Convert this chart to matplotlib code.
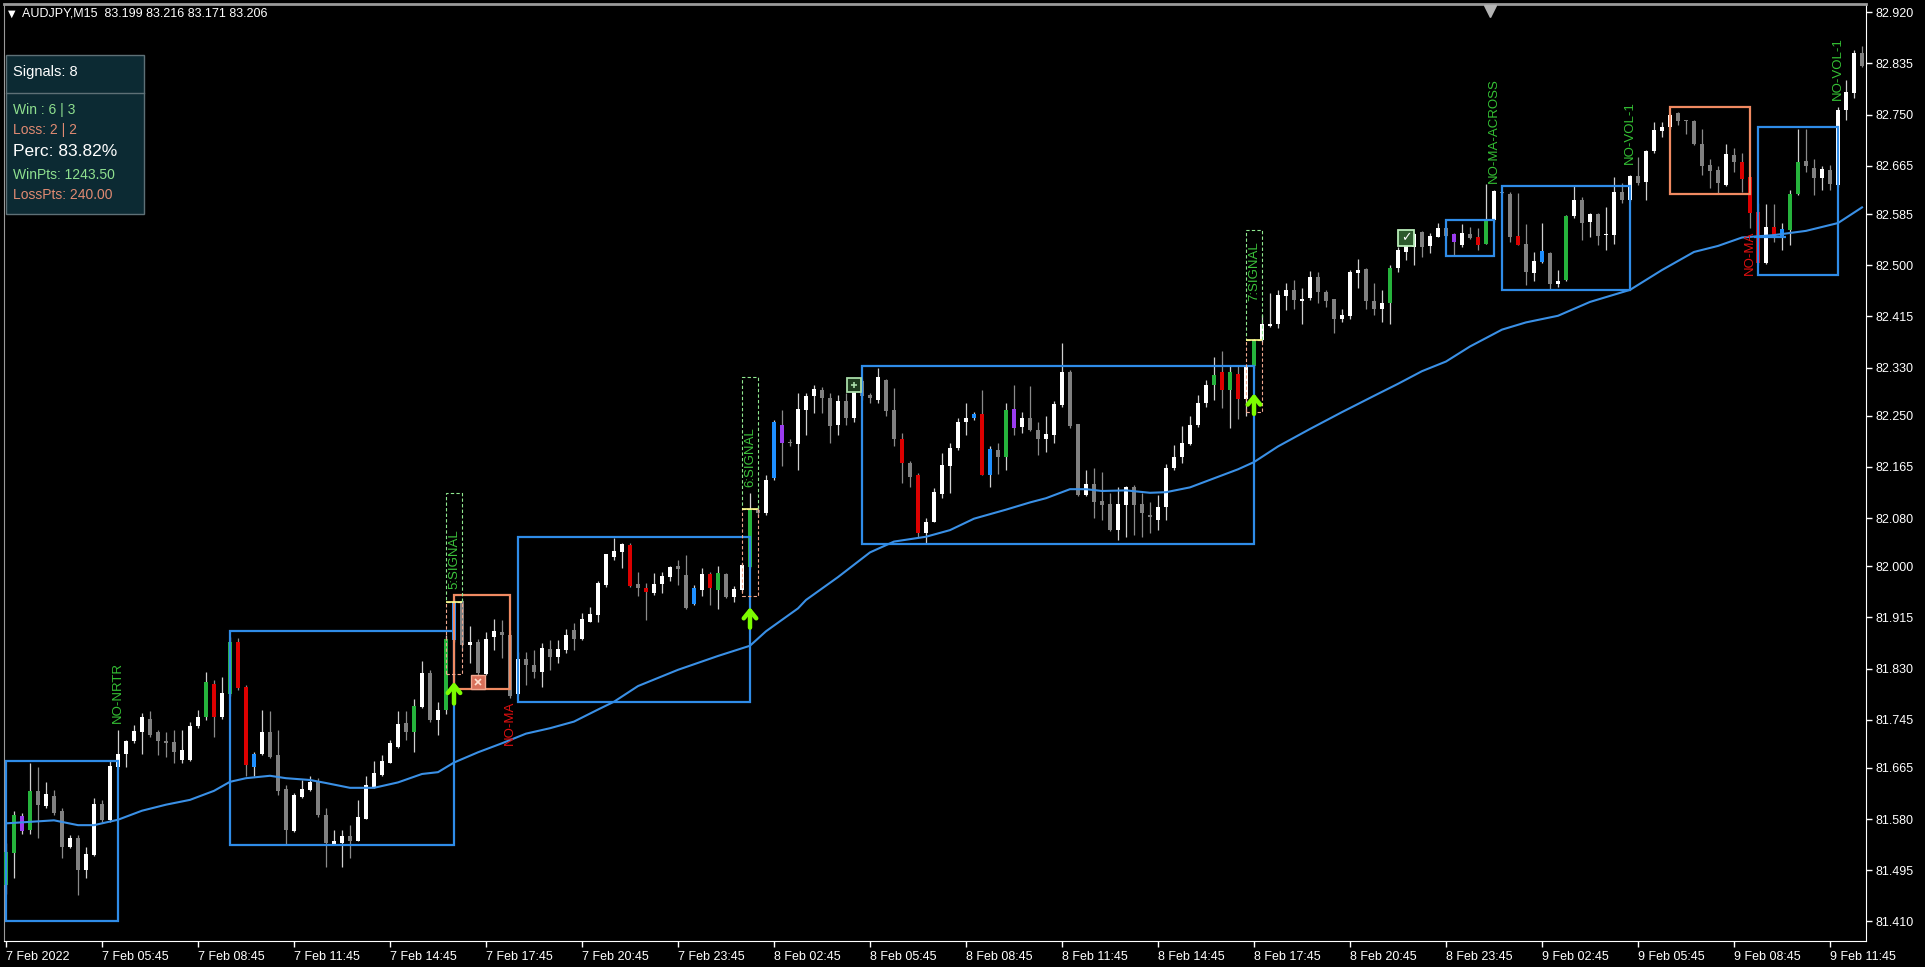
import numpy as np
import matplotlib.pyplot as plt
from matplotlib.patches import Rectangle
from matplotlib.lines import Line2D
from matplotlib.transforms import blended_transform_factory

# ---------------------------
# 1. Candles AUDJPY M15 (index 0 = first bar on the left)
# ---------------------------
opens = [81.471, 81.524, 81.561, 81.562, 81.627, 81.602, 81.619, 81.594, 81.534, 81.549,
         81.495, 81.521, 81.605, 81.578, 81.666, 81.688, 81.709, 81.725, 81.747, 81.724,
         81.710, 81.708, 81.679, 81.679, 81.734, 81.749, 81.805, 81.749, 81.787, 81.874,
         81.799, 81.667, 81.688, 81.724, 81.687, 81.630, 81.561, 81.617, 81.628, 81.641,
         81.587, 81.539, 81.541, 81.552, 81.544, 81.581, 81.634, 81.653, 81.674, 81.700,
         81.740, 81.725, 81.767, 81.823, 81.744, 81.761, 81.878, 81.943, 81.869, 81.875,
         81.821, 81.883, 81.891, 81.886, 81.788, 81.846, 81.836, 81.825, 81.862, 81.849,
         81.861, 81.894, 81.879, 81.908, 81.919, 81.969, 82.016, 82.024, 82.035, 81.970,
         81.964, 81.956, 81.971, 81.982, 82.001, 81.986, 81.938, 81.961, 81.987, 81.961,
         81.987, 81.949, 81.961, 81.999, 82.094, 82.088, 82.146, 82.235, 82.207, 82.203,
         82.259, 82.282, 82.293, 82.280, 82.235, 82.275, 82.246, 82.307, 82.285, 82.276,
         82.310, 82.260, 82.211, 82.171, 82.152, 82.055, 82.074, 82.120, 82.167, 82.196,
         82.240, 82.246, 82.253, 82.152, 82.193, 82.182, 82.261, 82.231, 82.246, 82.226,
         82.211, 82.218, 82.268, 82.323, 82.236, 82.118, 82.137, 82.108, 82.104, 82.060,
         82.102, 82.131, 82.104, 82.085, 82.077, 82.098, 82.163, 82.181, 82.203, 82.235,
         82.271, 82.301, 82.322, 82.292, 82.319, 82.278, 82.333, 82.375, 82.399, 82.403,
         82.449, 82.459, 82.441, 82.445, 82.480, 82.455, 82.444, 82.410, 82.415, 82.487,
         82.494, 82.441, 82.427, 82.438, 82.496, 82.522, 82.530, 82.555, 82.532, 82.547,
         82.561, 82.552, 82.534, 82.552, 82.546, 82.536, 82.575, 82.622, 82.619, 82.548,
         82.535, 82.487, 82.506, 82.521, 82.469, 82.475, 82.582, 82.609, 82.571, 82.585,
         82.550, 82.550, 82.622, 82.608, 82.648, 82.639, 82.689, 82.723, 82.729, 82.752,
         82.741, 82.739, 82.701, 82.666, 82.658, 82.633, 82.683, 82.672, 82.646, 82.589,
         82.504, 82.564, 82.547, 82.558, 82.619, 82.673, 82.662, 82.645, 82.658, 82.633,
         82.757, 82.786, 82.852]
highs = [81.540, 81.594, 81.590, 81.673, 81.667, 81.641, 81.628, 81.598, 81.554, 81.554,
         81.534, 81.615, 81.612, 81.678, 81.728, 81.712, 81.736, 81.756, 81.759, 81.728,
         81.724, 81.728, 81.728, 81.742, 81.761, 81.825, 81.811, 81.816, 81.883, 81.881,
         81.803, 81.692, 81.761, 81.759, 81.728, 81.637, 81.623, 81.645, 81.651, 81.648,
         81.598, 81.562, 81.562, 81.570, 81.612, 81.651, 81.676, 81.687, 81.712, 81.759,
         81.759, 81.779, 81.842, 81.828, 81.775, 81.885, 81.945, 81.946, 81.900, 81.880,
         81.890, 81.912, 81.911, 81.894, 81.858, 81.858, 81.861, 81.872, 81.878, 81.878,
         81.896, 81.905, 81.922, 81.933, 81.975, 82.021, 82.047, 82.038, 82.038, 81.991,
         81.972, 81.988, 81.991, 82.000, 82.011, 82.019, 81.969, 81.997, 81.991, 82.001,
         81.988, 81.967, 82.005, 82.121, 82.100, 82.152, 82.243, 82.260, 82.212, 82.287,
         82.287, 82.301, 82.297, 82.287, 82.285, 82.287, 82.311, 82.311, 82.287, 82.329,
         82.311, 82.296, 82.221, 82.174, 82.155, 82.080, 82.130, 82.188, 82.204, 82.246,
         82.271, 82.256, 82.293, 82.199, 82.204, 82.271, 82.301, 82.257, 82.300, 82.240,
         82.250, 82.274, 82.371, 82.326, 82.237, 82.160, 82.163, 82.157, 82.121, 82.132,
         82.133, 82.135, 82.121, 82.107, 82.119, 82.170, 82.202, 82.233, 82.249, 82.285,
         82.309, 82.347, 82.357, 82.333, 82.332, 82.334, 82.378, 82.417, 82.454, 82.458,
         82.470, 82.476, 82.462, 82.490, 82.489, 82.459, 82.444, 82.428, 82.492, 82.510,
         82.495, 82.470, 82.459, 82.500, 82.531, 82.553, 82.553, 82.556, 82.553, 82.570,
         82.564, 82.553, 82.568, 82.564, 82.561, 82.635, 82.625, 82.623, 82.621, 82.620,
         82.569, 82.522, 82.570, 82.522, 82.492, 82.583, 82.631, 82.614, 82.586, 82.586,
         82.597, 82.647, 82.636, 82.650, 82.680, 82.691, 82.738, 82.738, 82.752, 82.755,
         82.741, 82.741, 82.726, 82.677, 82.664, 82.701, 82.694, 82.687, 82.647, 82.603,
         82.602, 82.602, 82.570, 82.625, 82.727, 82.727, 82.677, 82.664, 82.666, 82.762,
         82.808, 82.857, 82.864]
lows = [81.455, 81.482, 81.556, 81.556, 81.548, 81.598, 81.587, 81.515, 81.532, 81.454,
        81.482, 81.518, 81.576, 81.576, 81.664, 81.667, 81.706, 81.689, 81.717, 81.687,
        81.684, 81.673, 81.673, 81.676, 81.731, 81.745, 81.717, 81.747, 81.785, 81.795,
        81.651, 81.651, 81.686, 81.681, 81.620, 81.537, 81.559, 81.615, 81.626, 81.584,
        81.501, 81.537, 81.501, 81.515, 81.543, 81.580, 81.631, 81.651, 81.673, 81.698,
        81.712, 81.692, 81.765, 81.742, 81.720, 81.755, 81.875, 81.860, 81.839, 81.811,
        81.819, 81.861, 81.847, 81.781, 81.786, 81.803, 81.814, 81.800, 81.828, 81.839,
        81.856, 81.861, 81.878, 81.907, 81.908, 81.966, 82.010, 81.997, 81.966, 81.950,
        81.911, 81.952, 81.955, 81.975, 81.969, 81.929, 81.936, 81.950, 81.936, 81.929,
        81.947, 81.941, 81.958, 81.997, 82.083, 82.085, 82.143, 82.166, 82.200, 82.160,
        82.218, 82.254, 82.254, 82.204, 82.218, 82.235, 82.240, 82.276, 82.271, 82.271,
        82.250, 82.199, 82.138, 82.132, 82.048, 82.039, 82.073, 82.113, 82.121, 82.193,
        82.218, 82.243, 82.152, 82.132, 82.154, 82.160, 82.218, 82.221, 82.224, 82.185,
        82.190, 82.204, 82.265, 82.229, 82.116, 82.116, 82.080, 82.077, 82.058, 82.043,
        82.049, 82.052, 82.048, 82.055, 82.060, 82.077, 82.160, 82.171, 82.202, 82.232,
        82.265, 82.276, 82.262, 82.229, 82.245, 82.249, 82.330, 82.372, 82.398, 82.395,
        82.426, 82.428, 82.403, 82.442, 82.438, 82.431, 82.387, 82.405, 82.410, 82.462,
        82.428, 82.417, 82.406, 82.403, 82.488, 82.509, 82.500, 82.514, 82.520, 82.547,
        82.546, 82.517, 82.530, 82.543, 82.525, 82.535, 82.572, 82.619, 82.539, 82.534,
        82.467, 82.473, 82.503, 82.459, 82.463, 82.473, 82.578, 82.542, 82.547, 82.534,
        82.525, 82.536, 82.603, 82.606, 82.634, 82.608, 82.686, 82.713, 82.727, 82.733,
        82.718, 82.700, 82.650, 82.628, 82.620, 82.631, 82.655, 82.622, 82.561, 82.500,
        82.502, 82.539, 82.525, 82.534, 82.617, 82.655, 82.617, 82.625, 82.625, 82.630,
        82.741, 82.777, 82.829]
closes = [81.526, 81.587, 81.585, 81.627, 81.604, 81.621, 81.590, 81.534, 81.549, 81.495,
          81.522, 81.605, 81.579, 81.668, 81.688, 81.710, 81.726, 81.749, 81.720, 81.709,
          81.706, 81.692, 81.695, 81.735, 81.749, 81.808, 81.749, 81.789, 81.874, 81.797,
          81.670, 81.688, 81.724, 81.684, 81.627, 81.562, 81.620, 81.630, 81.642, 81.587,
          81.540, 81.544, 81.552, 81.544, 81.584, 81.636, 81.656, 81.677, 81.706, 81.738,
          81.725, 81.768, 81.822, 81.744, 81.761, 81.879, 81.941, 81.869, 81.875, 81.822,
          81.879, 81.893, 81.885, 81.784, 81.846, 81.836, 81.825, 81.864, 81.850, 81.862,
          81.886, 81.880, 81.913, 81.921, 81.973, 82.020, 82.026, 82.037, 81.967, 81.964,
          81.957, 81.970, 81.983, 81.998, 81.995, 81.930, 81.964, 81.987, 81.964, 81.988,
          81.949, 81.962, 82.002, 82.095, 82.088, 82.143, 82.239, 82.205, 82.205, 82.261,
          82.283, 82.294, 82.280, 82.233, 82.275, 82.246, 82.308, 82.282, 82.279, 82.315,
          82.258, 82.211, 82.171, 82.149, 82.055, 82.074, 82.124, 82.168, 82.196, 82.240,
          82.247, 82.253, 82.152, 82.195, 82.181, 82.260, 82.230, 82.247, 82.226, 82.211,
          82.220, 82.270, 82.323, 82.233, 82.118, 82.137, 82.107, 82.102, 82.060, 82.104,
          82.131, 82.102, 82.088, 82.081, 82.098, 82.163, 82.182, 82.204, 82.235, 82.271,
          82.301, 82.318, 82.292, 82.322, 82.278, 82.332, 82.375, 82.402, 82.403, 82.450,
          82.459, 82.442, 82.444, 82.480, 82.456, 82.441, 82.410, 82.417, 82.489, 82.492,
          82.441, 82.428, 82.438, 82.496, 82.525, 82.532, 82.552, 82.531, 82.548, 82.561,
          82.549, 82.539, 82.553, 82.545, 82.534, 82.575, 82.623, 82.620, 82.547, 82.533,
          82.488, 82.507, 82.524, 82.469, 82.473, 82.582, 82.608, 82.570, 82.585, 82.549,
          82.552, 82.622, 82.608, 82.648, 82.636, 82.690, 82.725, 82.730, 82.749, 82.740,
          82.739, 82.702, 82.665, 82.657, 82.636, 82.685, 82.672, 82.643, 82.587, 82.504,
          82.564, 82.549, 82.560, 82.619, 82.672, 82.664, 82.645, 82.659, 82.635, 82.758,
          82.788, 82.852, 82.830]

# bars coloured by the indicator: g=green r=red b=blue p=purple
painted_idx = [0, 1, 2, 3, 25, 26, 28, 29, 30, 31, 51, 55, 56, 78, 80, 86, 88, 89, 93, 96,
               97, 112, 114, 121, 122, 123, 125, 126, 151, 152, 153, 154, 156, 173, 181, 184,
               185, 189, 192, 195, 217, 218, 219, 221, 222, 223, 224]
painted_col = ['g', 'g', 'p', 'g', 'g', 'r', 'g', 'r', 'r', 'b', 'g', 'g', 'b', 'r', 'r', 'b',
               'r', 'g', 'g', 'b', 'p', 'r', 'r', 'b', 'r', 'b', 'g', 'p', 'g', 'r', 'g', 'r',
               'g', 'g', 'p', 'r', 'g', 'r', 'b', 'g', 'r', 'r', 'r', 'r', 'b', 'g', 'g']

# moving average (read at these bar indices)
ma_idx = [0, 6, 9, 11, 14, 17, 20, 23, 26, 28, 30, 33, 35, 38, 40, 43, 46, 49, 52, 54,
          56, 59, 62, 65, 68, 71, 74, 76, 79, 84, 89, 93, 95, 99, 100, 104, 108, 111, 115, 118,
          121, 125, 128, 130, 133, 135, 137, 140, 143, 145, 148, 151, 154, 156, 159, 163, 167,
          171, 174, 177, 180, 183, 187, 190, 194, 198, 203, 207, 211, 214, 217, 221, 225, 229, 232]
ma_val = [81.573, 81.578, 81.570, 81.570, 81.579, 81.594, 81.604, 81.612, 81.627, 81.642,
          81.648, 81.652, 81.648, 81.645, 81.640, 81.632, 81.632, 81.641, 81.655, 81.658,
          81.674, 81.691, 81.706, 81.722, 81.731, 81.742, 81.762, 81.775, 81.801, 81.828,
          81.851, 81.868, 81.892, 81.930, 81.944, 81.982, 82.023, 82.041, 82.049, 82.060,
          82.079, 82.094, 82.106, 82.113, 82.128, 82.128, 82.125, 82.126, 82.122, 82.123,
          82.131, 82.146, 82.161, 82.173, 82.199, 82.228, 82.256, 82.283, 82.303, 82.324,
          82.340, 82.365, 82.393, 82.405, 82.416, 82.439, 82.459, 82.492, 82.522, 82.532,
          82.546, 82.550, 82.557, 82.570, 82.596]

# axes labels
time_labels = ['7 Feb 2022', '7 Feb 05:45', '7 Feb 08:45', '7 Feb 11:45', '7 Feb 14:45',
               '7 Feb 17:45', '7 Feb 20:45', '7 Feb 23:45', '8 Feb 02:45', '8 Feb 05:45',
               '8 Feb 08:45', '8 Feb 11:45', '8 Feb 14:45', '8 Feb 17:45', '8 Feb 20:45',
               '8 Feb 23:45', '9 Feb 02:45', '9 Feb 05:45', '9 Feb 08:45', '9 Feb 11:45']
price_ticks = [82.920, 82.835, 82.750, 82.665, 82.585, 82.500, 82.415, 82.330, 82.250, 82.165,
               82.080, 82.000, 81.915, 81.830, 81.745, 81.665, 81.580, 81.495, 81.410]

# range boxes
blue_x0 = [0, 28, 64, 107, 180, 187, 219]
blue_x1 = [14, 56, 93, 156, 186, 203, 229]
blue_hi = [81.677, 81.893, 82.048, 82.333, 82.575, 82.632, 82.730]
blue_lo = [81.410, 81.537, 81.774, 82.037, 82.515, 82.459, 82.484]
orange_x0 = [56, 208]
orange_x1 = [63, 218]
orange_hi = [81.952, 82.763]
orange_lo = [81.796, 82.618]

# signals
sig_bar = [56, 93, 156]
sig_name = ['5:SIGNAL', '6:SIGNAL', '7:SIGNAL']
sig_entry = [81.941, 82.095, 82.375]
sig_top = [82.121, 82.314, 82.559]
sig_bottom = [81.821, 81.950, 82.256]
sig_text_y = [82.012, 82.181, 82.490]
arrow_tip = [81.808, 81.932, 82.287]
arrow_base = [81.772, 81.898, 82.253]

# filter tags
tag_text = ['NO-NRTR', 'NO-MA', 'NO-MA-ACROSS', 'NO-VOL-1', 'NO-MA', 'NO-VOL-1']
tag_bar = [14, 63, 186, 203, 218, 229]
tag_price = [81.739, 81.703, 82.636, 82.668, 82.484, 82.774]
tag_kind = ['g', 'r', 'g', 'g', 'r', 'g']

# stats panel
panel_lines = ['Signals: 8', 'Win : 6 | 3', 'Loss: 2 | 2', 'Perc: 83.82%',
               'WinPts: 1243.50', 'LossPts: 240.00']
header = 'AUDJPY,M15  83.199 83.216 83.171 83.206'

# ---------------------------
# 2. Figure
# ---------------------------
plt.rcParams['font.family'] = ['Liberation Sans', 'DejaVu Sans']
W, H = 1925, 967
fig = plt.figure(figsize=(W / 100, H / 100), dpi=100, facecolor='black')
ax = fig.add_axes([4 / W, 26 / H, 1862 / W, 937 / H], facecolor='black')


def px(x, y):
    return x / W, 1 - y / H


o = np.array(opens)
h = np.array(highs)
l = np.array(lows)
c = np.array(closes)
idx = np.arange(len(o))
up = c >= o

paint = {'g': '#26b33c', 'r': '#dc0000', 'b': '#1e8fff', 'p': '#9b3cf0'}
body_col = np.where(up, '#ffffff', '#808080').astype(object)
for i, k in zip(painted_idx, painted_col):
    body_col[i] = paint[k]
wick_col = np.where(up, '#d0d0d0', '#8a8a8a')

ax.vlines(idx, l, h, colors=wick_col, linewidth=0.9, zorder=2)
ax.bar(idx, np.maximum(np.abs(c - o), 0.0018), bottom=np.minimum(o, c), width=0.6,
       color=list(body_col), linewidth=0, zorder=3)

# moving average
ax.plot(ma_idx, ma_val, color='#3a90e6', lw=1.5, zorder=4)

# boxes
for x0, x1, hi, lo in zip(blue_x0, blue_x1, blue_hi, blue_lo):
    ax.add_patch(Rectangle((x0, lo), x1 - x0, hi - lo, fill=False,
                           edgecolor='#2f8ce8', lw=1.6, zorder=5))
for x0, x1, hi, lo in zip(orange_x0, orange_x1, orange_hi, orange_lo):
    ax.add_patch(Rectangle((x0, lo), x1 - x0, hi - lo, fill=False,
                           edgecolor='#f08a62', lw=1.6, zorder=5))
ax.hlines(82.547, 218.5, 222.5, color='#2f8ce8', lw=1.6, zorder=5)

# signals
for b, name, ent, top, bot, ty, tip, base in zip(sig_bar, sig_name, sig_entry, sig_top,
                                                 sig_bottom, sig_text_y, arrow_tip, arrow_base):
    ax.add_patch(Rectangle((b - 1, ent), 2, top - ent, fill=False, edgecolor='#90e890',
                           lw=0.8, ls=(0, (3, 2)), zorder=6))
    ax.add_patch(Rectangle((b - 1, bot), 2, ent - bot, fill=False, edgecolor='#f0a890',
                           lw=0.8, ls=(0, (3, 2)), zorder=6))
    ax.hlines(ent, b - 1, b + 1, color='#ffff90', lw=1.2, zorder=7)
    ax.text(b, ty, name, rotation=90, ha='center', va='center', color='#3cc43c',
            fontsize=9.5, zorder=7)
    ax.annotate('', xy=(b, tip), xytext=(b, base),
                arrowprops=dict(arrowstyle='->,head_length=0.55,head_width=0.45',
                                color='#7cfc00', lw=3.2, shrinkA=0, shrinkB=0), zorder=8)

# tags
for txt, b, p, k in zip(tag_text, tag_bar, tag_price, tag_kind):
    ax.text(b, p, txt, rotation=90, ha='center', va='bottom', fontsize=9.5,
            color='#34c034' if k == 'g' else '#e01010', zorder=7)

# small icons
ax.plot(59, 81.808, marker='s', ms=10, mfc='#d8705a', mec='#f4a890', zorder=8)
ax.plot(59, 81.808, marker='x', ms=5, mec='#ffe0d0', mew=1.2, zorder=9)
ax.plot(106, 82.301, marker='s', ms=10, mfc='#1c3a1c', mec='#a8dca8', mew=1.3, zorder=8)
ax.plot(106, 82.301, marker='+', ms=5, mec='#a8dca8', mew=1.2, zorder=9)
ax.plot(175, 82.545, marker='s', ms=11, mfc='#2d5a2d', mec='#b8ecb8', mew=1.3, zorder=8)
ax.text(175, 82.545, '\u2713', ha='center', va='center', color='white', fontsize=9,
        family='DejaVu Sans', fontweight='bold', zorder=9)

# shift marker at the top
ax.plot(185.5, 0.993, marker='v', ms=8, color='#b4b4b4', clip_on=False,
        transform=blended_transform_factory(ax.transData, ax.transAxes), zorder=10)

# ---------------------------
# 3. Axes styling
# ---------------------------
ax.set_xlim(-0.25, 232.5)
ax.set_ylim(81.3776, 82.9338)
ax.yaxis.tick_right()
ax.set_yticks(price_ticks)
ax.set_yticklabels(['%.3f' % p for p in price_ticks])
ax.set_xticks(np.arange(len(time_labels)) * 12)
ax.set_xticklabels(time_labels, ha='left')
ax.tick_params(colors='white', labelsize=9, length=4, width=1, direction='out')
ax.tick_params(axis='y', pad=3)
ax.tick_params(axis='x', pad=3)
for lab in ax.get_xticklabels():
    lab.set_x(-1)
ax.spines['right'].set_color('white')
ax.spines['bottom'].set_color('white')
ax.spines['top'].set_color('#9a9a9a')
ax.spines['left'].set_color('#9a9a9a')
ax.spines['top'].set_linewidth(2)

# header
fig.text(*px(8, 14), '\u25bc', color='white', fontsize=7, va='center', family='DejaVu Sans')
fig.text(*px(22, 14), header, color='white', fontsize=9, va='center')

# stats panel
fig.patches.append(Rectangle(px(6, 214), 138 / W, 159 / H, transform=fig.transFigure,
                             facecolor='#0c2a33', edgecolor='#5e7076', lw=1, zorder=10))
fig.lines.append(Line2D([6 / W, 144 / W], [1 - 93 / H] * 2, transform=fig.transFigure,
                        color='#5e7076', lw=1, zorder=11))
panel_y = [72, 110, 130, 152, 175, 195]
panel_c = ['white', '#8fe08f', '#e08a72', 'white', '#8fe08f', '#e08a72']
panel_s = [10.5, 10, 10, 12.5, 10, 10]
for txt, y, col, s in zip(panel_lines, panel_y, panel_c, panel_s):
    fig.text(*px(13, y), txt, color=col, fontsize=s, va='center', zorder=12)

fig.savefig('out.png', dpi=100, facecolor='black')
